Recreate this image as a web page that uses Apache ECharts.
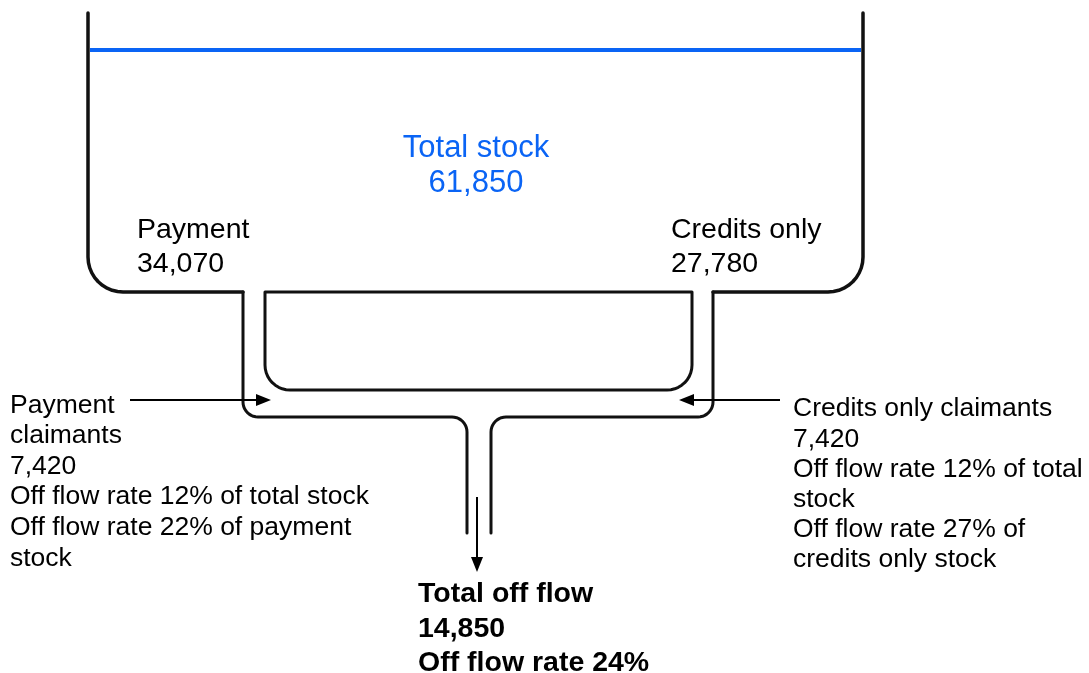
<!DOCTYPE html>
<html>
<head>
<meta charset="utf-8">
<script src="https://cdn.jsdelivr.net/npm/echarts@6/dist/echarts.min.js"></script>
<style>
	html, body { margin: 0; padding: 0; background: #fff; }
	#main { width: 1089px; height: 673px; }
</style>
</head>
<body>
<div id="main"></div>
<script>
// stock figures
const stockNames = ['Total stock', 'Payment', 'Credits only']
const stockValues = [61850, 34070, 27780]
// off flow figures
const flowNames = ['Payment claimants', 'Credits only claimants', 'Total off flow']
const flowValues = [7420, 7420, 14850]
const rateOfTotal = [12, 12, 24]
const rateOfGroup = [22, 27]
const groupStockNames = ['payment stock', 'credits only stock']

const FONT = '"Liberation Sans", Arial, sans-serif'
const fmt = v => v.toLocaleString('en-US')

const chart = echarts.init(document.getElementById('main'))

function txt(x, y, text, size, opts) {
	opts = opts || {}
	return {
		type: 'text',
		x: x,
		y: y,
		style: {
			text: text,
			fill: opts.color || '#000',
			font: (opts.bold ? 'bold ' : '') + size + 'px ' + FONT,
			lineHeight: opts.lh || size + 4,
			align: opts.align || 'left',
			verticalAlign: 'top'
		}
	}
}

function arrow(x1, y1, x2, y2) {
	const len = 15, half = 6
	const dx = x2 - x1, dy = y2 - y1
	const d = Math.sqrt(dx * dx + dy * dy)
	const ux = dx / d, uy = dy / d
	const bx = x2 - ux * len, by = y2 - uy * len
	return [
		{ type: 'line', shape: { x1: x1, y1: y1, x2: bx, y2: by }, style: { stroke: '#000', lineWidth: 2 } },
		{
			type: 'polygon',
			shape: { points: [[x2, y2], [bx - uy * half, by + ux * half], [bx + uy * half, by - ux * half]] },
			style: { fill: '#000' }
		}
	]
}

// quarter circle points for the rounded corners
function arcPts(cx, cy, r, a0, a1) {
	const pts = []
	for (let i = 0; i <= 10; i++) {
		const a = (a0 + (a1 - a0) * i / 10) * Math.PI / 180
		pts.push([cx + r * Math.cos(a), cy + r * Math.sin(a)])
	}
	return pts
}

const leftTank = [[88, 13]].concat(arcPts(123, 257, 35, 180, 90), [[243, 292]])
const leftPipe = [[243, 292]].concat(
	arcPts(258, 402, 15, 180, 90),
	arcPts(452, 432, 15, 270, 360),
	[[467, 533]]
)
const rightTank = [[863, 13]].concat(arcPts(828, 257, 35, 0, 90), [[713, 292]])
const rightPipe = [[713, 292]].concat(
	arcPts(698, 402, 15, 0, 90),
	arcPts(506, 432, 15, 270, 180),
	[[491, 533]]
)
const innerBox = [[265, 292], [692, 292]].concat(
	arcPts(667, 365, 25, 0, 90),
	arcPts(290, 365, 25, 90, 180),
	[[265, 292]]
)

const lineStyle = { stroke: '#111', lineWidth: 3, fill: null, lineJoin: 'round', lineCap: 'round' }
const tankStyle = Object.assign({}, lineStyle, { lineWidth: 3.5 })

const graphics = [
	{ type: 'polyline', shape: { points: leftTank }, style: tankStyle },
	{ type: 'polyline', shape: { points: leftPipe }, style: lineStyle },
	{ type: 'polyline', shape: { points: rightTank }, style: tankStyle },
	{ type: 'polyline', shape: { points: rightPipe }, style: lineStyle },
	{ type: 'polyline', shape: { points: innerBox }, style: lineStyle },
	// water level
	{ type: 'line', shape: { x1: 90, y1: 50, x2: 861, y2: 50 }, style: { stroke: '#0a64f5', lineWidth: 4 } },

	txt(476, 131, stockNames[0] + '\n' + fmt(stockValues[0]), 31, { color: '#0a64f5', align: 'center', lh: 35 }),
	txt(137, 213, stockNames[1] + '\n' + fmt(stockValues[1]), 28.5, { lh: 34 }),
	txt(671, 213, stockNames[2] + '\n' + fmt(stockValues[2]), 28.5, { lh: 34 }),

	txt(10, 390, 'Payment\nclaimants\n' + fmt(flowValues[0]) +
		'\nOff flow rate ' + rateOfTotal[0] + '% of total stock' +
		'\nOff flow rate ' + rateOfGroup[0] + '% of payment\nstock', 26.5, { lh: 30.6 }),
	txt(793, 394, flowNames[1] + '\n' + fmt(flowValues[1]) +
		'\nOff flow rate ' + rateOfTotal[1] + '% of total\nstock' +
		'\nOff flow rate ' + rateOfGroup[1] + '% of\n' + groupStockNames[1], 26.5, { lh: 30.2 }),
	txt(418, 577, flowNames[2] + '\n' + fmt(flowValues[2]) +
		'\nOff flow rate ' + rateOfTotal[2] + '%', 28.5, { bold: true, lh: 34.5 })
].concat(arrow(130, 400, 271, 400), arrow(780, 400, 679, 400), arrow(477, 497, 477, 572))

chart.setOption({
	backgroundColor: '#fff',
	animation: false,
	graphic: graphics
})
</script>
</body>
</html>
